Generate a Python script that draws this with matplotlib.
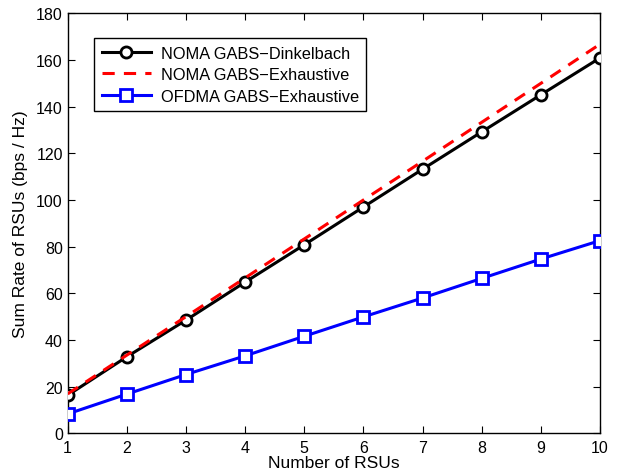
import matplotlib
matplotlib.use('Agg')
import matplotlib.pyplot as plt
import numpy as np

plt.rcParams['font.family'] = ['Liberation Sans', 'DejaVu Sans']

num_rsus = np.arange(1, 11)
noma_dinkelbach = [16.3, 32.8, 48.5, 64.8, 80.8, 97.0, 113.2, 129.2, 145.1, 160.9]
noma_exhaustive = [16.9, 33.5, 50.0, 66.6, 83.3, 100.0, 116.6, 133.3, 150.0, 166.8]
ofdma_exhaustive = [8.3, 16.8, 25.2, 33.2, 41.6, 49.9, 58.0, 66.4, 74.7, 82.6]

fig = plt.figure(figsize=(6.18, 4.77), dpi=100)
ax = fig.add_axes([0.1095, 0.0895, 0.8615, 0.8805])

ax.plot(num_rsus, noma_dinkelbach, 'k-o', lw=2.2, ms=8, mfc='white', mew=2,
        label='NOMA GABS\u2212Dinkelbach', zorder=3)
ax.plot(num_rsus, noma_exhaustive, 'r--', lw=2.2, dashes=(4, 3),
        label='NOMA GABS\u2212Exhaustive', zorder=4)
ax.plot(num_rsus, ofdma_exhaustive, 'b-s', lw=2.2, ms=8, mfc='white', mew=2,
        label='OFDMA GABS\u2212Exhaustive', zorder=3)

ax.set_xlim(1, 10)
ax.set_ylim(0, 180)
ax.set_xticks(num_rsus)
ax.set_yticks(np.arange(0, 181, 20))
ax.tick_params(direction='in', labelsize=11.5, length=5, top=True, right=True,
               labeltop=False, labelright=False)
ax.tick_params(axis='x', pad=5)
for s in ax.spines.values():
    s.set_linewidth(1.0)

ax.set_xlabel('Number of RSUs', fontsize=12.5, labelpad=0)
ax.set_ylabel('Sum Rate of RSUs (bps / Hz)', fontsize=12.5, labelpad=6)

leg = ax.legend(loc='upper left', bbox_to_anchor=(0.035, 0.96), fontsize=11.8,
                fancybox=False, edgecolor='black', framealpha=1,
                handlelength=3.0, handletextpad=0.6, borderpad=0.45,
                labelspacing=0.4)
leg.get_frame().set_linewidth(1.0)

fig.savefig('out.png', dpi=100)
